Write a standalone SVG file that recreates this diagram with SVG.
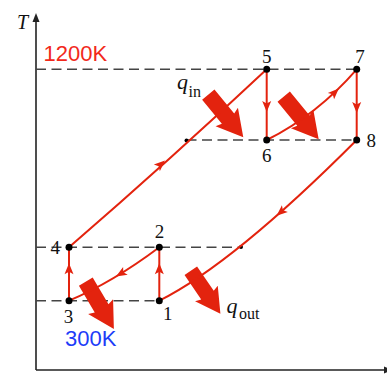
<svg xmlns="http://www.w3.org/2000/svg" xmlns:xlink="http://www.w3.org/1999/xlink" width="387" height="390" viewBox="0 0 387 390">
<style>
.axis{stroke:#222;stroke-width:1.6;fill:none}
.dash{stroke:#444;stroke-width:1.6;fill:none;stroke-dasharray:10 5.5}
.red{stroke:#e3230e;stroke-width:2;fill:none}
.dot{fill:#000}
.num{font-family:"Liberation Serif",serif;font-size:19px;fill:#111}
.q{font-family:"Liberation Serif",serif;font-style:italic;font-size:22px;fill:#111}
.sub{font-family:"Liberation Serif",serif;font-size:16px;fill:#111}
.temp{font-family:"Liberation Sans",Arial,sans-serif;font-size:22px}
</style>
<defs>
<path id="ah" d="M0,0 L-11,-4.5 L-8.5,0 L-11,4.5 Z" fill="#e3230e"/>
<path id="fat" d="M0,-8 L31,-8 L29,-14.5 L55,0 L29,14.5 L31,8 L0,8 Z" fill="#e3230e"/>
</defs>
<rect width="387" height="390" fill="#fff"/>
<g id="axes">
<line class="axis" x1="36" y1="370" x2="36" y2="20"/>
<polygon points="36,13 32.5,22 39.5,22" fill="#222"/>
<line class="axis" x1="36" y1="370" x2="387" y2="370"/>
<polygon points="392,370 384,366.5 384,373.5" fill="#222"/>
<text x="17" y="29" class="q" style="font-size:20px">T</text>
</g>
<g id="guides">
<line class="dash" x1="36" y1="69.3" x2="356.7" y2="69.3"/>
<line class="dash" x1="186.5" y1="140" x2="356.7" y2="140"/>
<line class="dash" x1="36" y1="247.3" x2="241" y2="247.3"/>
<line class="dash" x1="36" y1="300.7" x2="159.3" y2="300.7"/>
<circle cx="186.5" cy="140.5" r="2" class="dot"/>
<circle cx="241" cy="247" r="2" class="dot"/>
</g>
<g id="heat-arrows">
<use xlink:href="#fat" transform="translate(208.3,94.7) rotate(50.5)"/>
<use xlink:href="#fat" transform="translate(283.7,96.7) rotate(50.5)"/>
<use xlink:href="#fat" transform="translate(85.8,281.7) rotate(59.3)"/>
<use xlink:href="#fat" transform="translate(190.8,270.8) rotate(55.5) scale(0.95)"/>
</g>
<g id="connectors">
<path class="red" d="M69,247.3 Q170,160 266.7,69.3"/>
<path class="red" d="M266.7,69.3 L266.7,140"/>
<path class="red" d="M266.7,140 Q317.2,114.75 356.7,69.3"/>
<path class="red" d="M356.7,69.3 L356.7,140"/>
<path class="red" d="M356.7,140 Q233.6,263.4 159.3,300.7"/>
<path class="red" d="M159.3,300.7 L159.3,247.3"/>
<path class="red" d="M159.3,247.3 Q112.4,282.5 69,300.7"/>
<path class="red" d="M69,300.7 L69,247.3"/>
<use xlink:href="#ah" transform="translate(165,160.5) rotate(-42)"/>
<use xlink:href="#ah" transform="translate(266.7,112) rotate(90)"/>
<use xlink:href="#ah" transform="translate(338.8,88.4) rotate(-44.4)"/>
<use xlink:href="#ah" transform="translate(356.7,113) rotate(90)"/>
<use xlink:href="#ah" transform="translate(276.6,215.8) rotate(138.7)"/>
<use xlink:href="#ah" transform="translate(159.3,263.3) rotate(-90)"/>
<use xlink:href="#ah" transform="translate(116,276.6) rotate(149)"/>
<use xlink:href="#ah" transform="translate(69,263.3) rotate(-90)"/>
</g>
<g id="node-1"><circle cx="159.3" cy="300.7" r="3.5" class="dot"/><text x="163" y="320" class="num">1</text></g>
<g id="node-2"><circle cx="159.3" cy="247.3" r="3.5" class="dot"/><text x="159.5" y="238.3" class="num" text-anchor="middle">2</text></g>
<g id="node-3"><circle cx="69" cy="300.7" r="3.5" class="dot"/><text x="68.5" y="323" class="num" text-anchor="middle">3</text></g>
<g id="node-4"><circle cx="69" cy="247.3" r="3.5" class="dot"/><text x="50.5" y="254" class="num">4</text></g>
<g id="node-5"><circle cx="266.7" cy="69.3" r="3.5" class="dot"/><text x="266.7" y="63" class="num" text-anchor="middle">5</text></g>
<g id="node-6"><circle cx="266.7" cy="140" r="3.5" class="dot"/><text x="266.7" y="162" class="num" text-anchor="middle">6</text></g>
<g id="node-7"><circle cx="356.7" cy="69.3" r="3.5" class="dot"/><text x="360" y="63" class="num" text-anchor="middle">7</text></g>
<g id="node-8"><circle cx="356.7" cy="140" r="3.5" class="dot"/><text x="366.5" y="147" class="num">8</text></g>
<g id="labels">
<text x="43.5" y="61" class="temp" fill="#f2291b">1200K</text>
<text x="65" y="346" class="temp" fill="#1d3cf8">300K</text>
<text x="177" y="89" class="q">q</text><text x="188.5" y="96.5" class="sub">in</text>
<text x="226.5" y="313" class="q">q</text><text x="239" y="319" class="sub">out</text>
</g>
</svg>
